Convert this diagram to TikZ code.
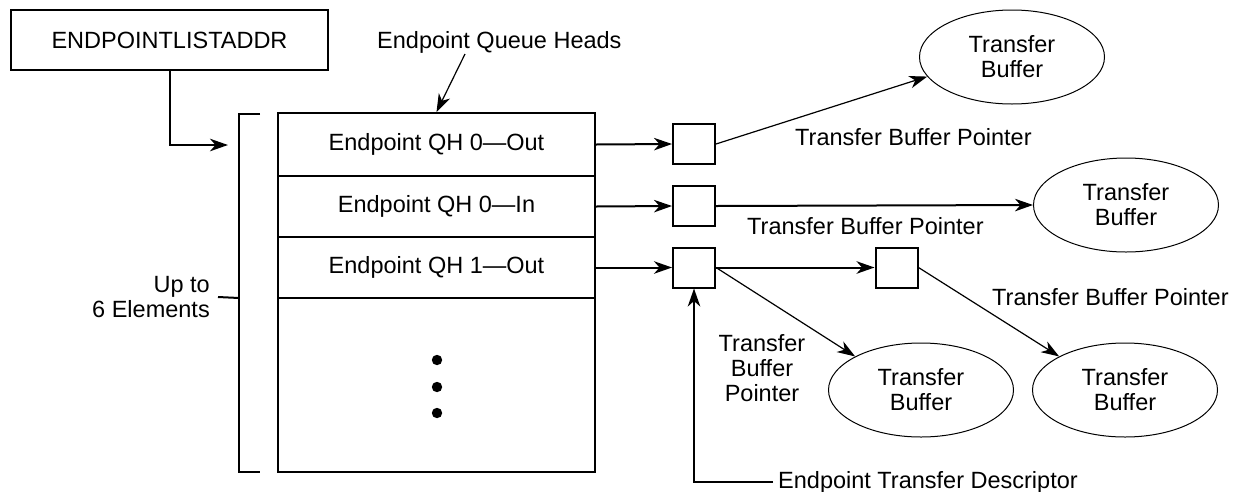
\documentclass[tikz,border=0pt]{standalone}
\usepackage{fontspec}
\setmainfont{Liberation Sans}
\usetikzlibrary{arrows.meta,shapes.geometric,calc}
\begin{document}
\begin{tikzpicture}[x=1pt,y=-1pt,
  txt/.style={font=\fontsize{23.5}{25}\selectfont, inner sep=0pt, align=center},
  mainline/.style={line width=2pt},
  thinline/.style={line width=1.2pt},
  arr/.style={-{Stealth[length=18pt,width=12.5pt,inset=5.5pt]}},
  sbox/.style={draw, line width=2pt, minimum width=42pt, minimum height=40pt, inner sep=0pt},
  qrow/.style={draw, line width=2pt, minimum width=317pt, inner sep=0pt, txt},
  buf/.style={draw, ellipse, line width=1pt, minimum width=185pt, minimum height=94pt, inner sep=0pt, txt}
]
\useasboundingbox (0,0) rectangle (1234,491);

% register box
\node[draw, line width=2pt, minimum width=317pt, minimum height=60pt, txt] (ela) at (169.5,40) {ENDPOINTLISTADDR};

% queue heads block
\node[draw, line width=2pt, minimum width=317pt, minimum height=359pt, inner sep=0pt] (qbox) at (436.5,292.5) {};
\node[qrow, minimum height=63pt] (q0) at (436.5,144.5) {Endpoint QH 0\textemdash Out};
\node[qrow, minimum height=61pt] (q1) at (436.5,206.5) {Endpoint QH 0\textemdash In};
\node[qrow, minimum height=61pt] (q2) at (436.5,267.5) {Endpoint QH 1\textemdash Out};
\fill (437,360) circle (5.2pt) (437,387) circle (5.2pt) (437,413) circle (5.2pt);

% bracket
\draw[mainline] (260,114) -- (239,114) -- (239,472) -- (260,472);
\coordinate (brk) at (239,298);
\coordinate (brin) at (228,145);
\node[txt, align=right, anchor=east] (upto) at (210,297) {Up to\\6 Elements};
\draw[mainline] ($(upto.east)+(8,0)$) -- (brk);
\draw[mainline, arr] (ela.south) |- (brin);

% label queue heads
\node[txt, anchor=west] (qhl) at (377,42) {Endpoint Queue Heads};
\coordinate (qha) at (465,54);
\draw[thinline, arr] (qha) -- (qbox.north);

% transfer descriptors
\node[sbox] (b1) at (694,144) {};
\node[sbox] (b2) at (694,206) {};
\node[sbox] (b3) at (694,267.5) {};
\node[sbox] (b4) at (896.5,267.5) {};

\draw[mainline, arr] (q0.east) -- (b1.west);
\draw[mainline, arr] (q1.east) -- (b2.west);
\draw[mainline, arr] (q2.east) -- (b3.west);
\draw[mainline, arr] (b3.east) -- (b4.west);

% buffers
\node[buf] (e1) at (1012,57) {Transfer\\Buffer};
\node[buf] (e2) at (1126,205) {Transfer\\Buffer};
\node[buf] (e3) at (921,390) {Transfer\\Buffer};
\node[buf] (e4) at (1125,390) {Transfer\\Buffer};

\draw[thinline, arr] (b1.east) -- (e1.193);
\draw[mainline, arr] (b2.east) -- (e2.west);
\draw[thinline, arr] (b3.east) -- (e3.153);
\draw[thinline, arr] (b4.east) -- (e4.153);

% pointer labels
\node[txt, anchor=west] (tbp1) at (795,137) {Transfer Buffer Pointer};
\node[txt, anchor=west] (tbp2) at (747,226) {Transfer Buffer Pointer};
\node[txt, anchor=west] (tbp3) at (992,297) {Transfer Buffer Pointer};
\node[txt] (tbp4) at (762,368) {Transfer\\Buffer\\Pointer};

% descriptor label
\node[txt, anchor=west, inner xsep=5pt] (etd) at (773,482) {Endpoint Transfer Descriptor};
\draw[mainline, arr] (etd.west) -| (b3.south);
\end{tikzpicture}
\end{document}
